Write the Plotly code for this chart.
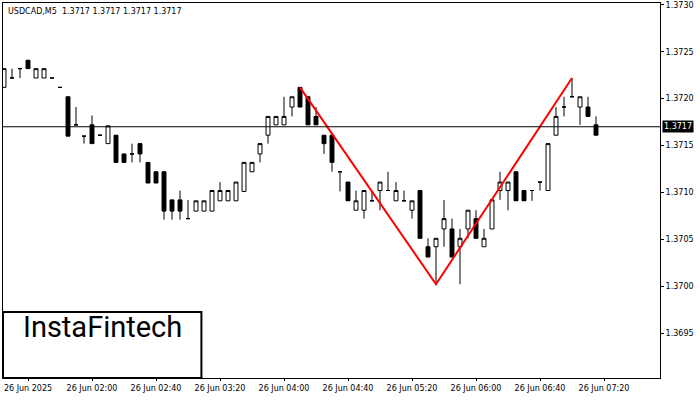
import plotly.graph_objects as go

opens = [1.37212, 1.37222, 1.37232, 1.37241, 1.37222, 1.37222, 1.37222, 1.37212, 1.37202, 1.37172,
         1.37160, 1.37172, 1.37161, 1.37152, 1.37161, 1.37141, 1.37141, 1.37152, 1.37132, 1.37122,
         1.37122, 1.37092, 1.37092, 1.37072, 1.37080, 1.37080, 1.37080, 1.37091, 1.37091, 1.37091,
         1.37101, 1.37122, 1.37141, 1.37161, 1.37172, 1.37172, 1.37191, 1.37212, 1.37202, 1.37181,
         1.37161, 1.37161, 1.37122, 1.37111, 1.37081, 1.37081, 1.37091, 1.37102, 1.37102, 1.37091,
         1.37091, 1.37081, 1.37102, 1.37042, 1.37042, 1.37061, 1.37061, 1.37042, 1.37061, 1.37072,
         1.37042, 1.37061, 1.37102, 1.37102, 1.37122, 1.37102, 1.37102, 1.37111, 1.37102, 1.37161,
         1.37191, 1.37202, 1.37191, 1.37191, 1.37172]
highs = [1.37232, 1.37232, 1.37232, 1.37241, 1.37232, 1.37232, 1.37222, 1.37212, 1.37202, 1.37191,
         1.37160, 1.37182, 1.37161, 1.37171, 1.37161, 1.37141, 1.37152, 1.37152, 1.37132, 1.37122,
         1.37122, 1.37092, 1.37102, 1.37092, 1.37091, 1.37091, 1.37102, 1.37111, 1.37102, 1.37111,
         1.37132, 1.37132, 1.37152, 1.37181, 1.37181, 1.37202, 1.37202, 1.37212, 1.37202, 1.37191,
         1.37161, 1.37161, 1.37122, 1.37111, 1.37102, 1.37102, 1.37102, 1.37111, 1.37122, 1.37111,
         1.37102, 1.37091, 1.37102, 1.37051, 1.37051, 1.37092, 1.37072, 1.37061, 1.37081, 1.37081,
         1.37061, 1.37092, 1.37122, 1.37111, 1.37122, 1.37102, 1.37102, 1.37111, 1.37152, 1.37191,
         1.37202, 1.37222, 1.37202, 1.37202, 1.37181]
lows = [1.37212, 1.37222, 1.37222, 1.37232, 1.37222, 1.37222, 1.37222, 1.37212, 1.37160, 1.37172,
        1.37152, 1.37152, 1.37161, 1.37152, 1.37132, 1.37132, 1.37132, 1.37132, 1.37110, 1.37110,
        1.37071, 1.37071, 1.37071, 1.37072, 1.37080, 1.37080, 1.37080, 1.37091, 1.37091, 1.37091,
        1.37101, 1.37122, 1.37132, 1.37152, 1.37172, 1.37172, 1.37181, 1.37191, 1.37172, 1.37172,
        1.37141, 1.37122, 1.37101, 1.37091, 1.37081, 1.37072, 1.37091, 1.37081, 1.37102, 1.37091,
        1.37091, 1.37072, 1.37051, 1.37031, 1.37002, 1.37042, 1.37031, 1.37002, 1.37051, 1.37051,
        1.37042, 1.37061, 1.37092, 1.37081, 1.37091, 1.37091, 1.37091, 1.37102, 1.37102, 1.37161,
        1.37181, 1.37202, 1.37172, 1.37181, 1.37161]
closes = [1.37232, 1.37222, 1.37232, 1.37232, 1.37232, 1.37232, 1.37222, 1.37212, 1.37160, 1.37172,
          1.37160, 1.37152, 1.37161, 1.37171, 1.37132, 1.37132, 1.37141, 1.37141, 1.37110, 1.37110,
          1.37080, 1.37080, 1.37080, 1.37072, 1.37091, 1.37091, 1.37102, 1.37102, 1.37102, 1.37111,
          1.37132, 1.37132, 1.37152, 1.37181, 1.37181, 1.37181, 1.37202, 1.37191, 1.37172, 1.37172,
          1.37152, 1.37132, 1.37122, 1.37091, 1.37091, 1.37102, 1.37091, 1.37111, 1.37102, 1.37102,
          1.37091, 1.37091, 1.37051, 1.37031, 1.37051, 1.37072, 1.37031, 1.37051, 1.37081, 1.37051,
          1.37051, 1.37092, 1.37111, 1.37111, 1.37091, 1.37091, 1.37102, 1.37111, 1.37152, 1.37181,
          1.37191, 1.37202, 1.37202, 1.37181, 1.37161]

pattern_x = [37, 54, 71]
pattern_y = [1.37212, 1.37002, 1.37222]
last_price = 1.3717

tick_pos = [3, 11, 19, 27, 35, 43, 51, 59, 67, 75]
tick_text = ['26 Jun 2025', '26 Jun 02:00', '26 Jun 02:40', '26 Jun 03:20', '26 Jun 04:00',
             '26 Jun 04:40', '26 Jun 05:20', '26 Jun 06:00', '26 Jun 06:40', '26 Jun 07:20']
y_ticks = [1.3695, 1.3700, 1.3705, 1.3710, 1.3715, 1.3720, 1.3725, 1.3730]
y_text = ['1.3695', '1.3700', '1.3705', '1.3710', '1.3715', '1.3720', '1.3725', '1.3730']

idx = list(range(len(opens)))

fig = go.Figure()
fig.add_trace(go.Candlestick(
    x=idx, open=opens, high=highs, low=lows, close=closes,
    increasing=dict(line=dict(color='black', width=1), fillcolor='white'),
    decreasing=dict(line=dict(color='black', width=1), fillcolor='black'),
    whiskerwidth=0, hoverinfo='skip', showlegend=False
))
fig.add_trace(go.Scatter(x=pattern_x, y=pattern_y, mode='lines',
                         line=dict(color='#ff0000', width=2), showlegend=False, hoverinfo='skip'))

fig.add_shape(type='line', xref='paper', x0=0, x1=1, y0=last_price, y1=last_price,
              line=dict(color='black', width=1))
fig.add_annotation(xref='paper', x=1.0, y=last_price, text='1.3717', showarrow=False,
                   xanchor='left', xshift=2, bgcolor='black', font=dict(color='white', size=8),
                   borderpad=1)
fig.add_annotation(xref='paper', yref='paper', x=0.005, y=0.995, xanchor='left', yanchor='top',
                   text='USDCAD,M5  1.3717 1.3717 1.3717 1.3717', showarrow=False,
                   font=dict(size=8, color='black'))
fig.add_shape(type='rect', xref='paper', yref='paper', x0=0, x1=0.302, y0=0, y1=0.176,
              fillcolor='white', line=dict(color='black', width=2))
fig.add_annotation(xref='paper', yref='paper', x=0.151, y=0.085, xanchor='center', text='InstaFintech',
                   showarrow=False, font=dict(size=29, color='black', family='Roboto'))

fig.update_layout(
    width=700, height=400,
    margin=dict(l=3, r=40, t=3, b=22, autoexpand=False),
    plot_bgcolor='white', paper_bgcolor='white',
    font=dict(family='DejaVu Sans', size=8, color='black'),
    hovermode=False,
    xaxis=dict(range=[-0.125, 82], tickvals=tick_pos, ticktext=tick_text, showgrid=False,
               rangeslider=dict(visible=False), showline=True, linecolor='black', mirror=True,
               ticks='outside', ticklen=2, tickcolor='black', zeroline=False, automargin=False),
    yaxis=dict(range=[1.36902, 1.37302], tickvals=y_ticks, ticktext=y_text, side='right',
               showgrid=False, showline=True, linecolor='black', mirror=True,
               ticks='outside', ticklen=3, tickcolor='black', zeroline=False, automargin=False)
)

fig.write_html("out.html", config={'displayModeBar': False},
               post_script="document.body.style.margin='0';")
